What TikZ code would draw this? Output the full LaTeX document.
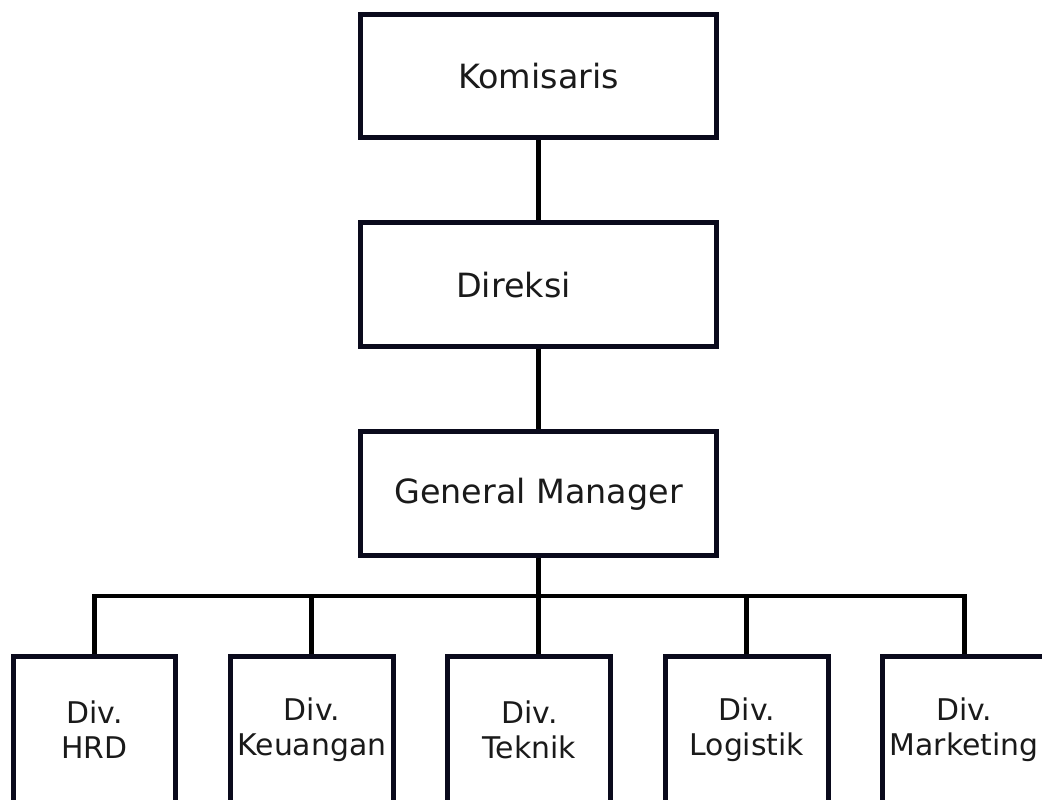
\documentclass[tikz,border=0pt]{standalone}
\usepackage{fontspec}
\setmainfont{DejaVu Sans}
\usetikzlibrary{positioning}
\definecolor{boxline}{RGB}{10,10,28}
\definecolor{labeltext}{RGB}{26,26,26}

\begin{document}
\begin{tikzpicture}[x=0.02cm,y=-0.02cm,
	jabatan/.style={draw=boxline,line width=0.1cm,minimum width=7.14cm,minimum height=2.48cm,inner sep=1pt,text=labeltext,font=\fontsize{19}{23}\selectfont},
	divisi/.style={draw=boxline,line width=0.1cm,minimum width=3.26cm,minimum height=2.96cm,inner sep=1pt,align=center,text=labeltext,font=\fontsize{17}{20}\selectfont},
	garis/.style={line width=0.1cm},
	node distance=1.6cm]
	\clip (0,0) rectangle (1042,800);
	\node[jabatan] (kom) at (538.5,76) {Komisaris};
	\node[jabatan] (dir) [below=of kom] {Direksi\hspace*{1cm}\mbox{}};
	\node[jabatan] (gm) [below=of dir] {General Manager};
	
	\node[divisi] (hrd) at (94.5,730) {Div.\\HRD};
	\node[divisi] (keu) [right=0.99cm of hrd] {Div.\\Keuangan};
	\node[divisi] (tek) [right=0.99cm of keu] {Div.\\Teknik};
	\node[divisi] (log) [right=0.99cm of tek] {Div.\\Logistik};
	\node[divisi] (mar) [right=0.99cm of log] {Div.\\Marketing};
	
	\coordinate (bus) at (538.5,596);
	\draw[garis] (kom) -- (dir);
	\draw[garis] (dir) -- (gm);
	\draw[garis] (gm) -- (gm |- tek.north);
	\draw[garis] (hrd.north) |- (bus) -| (mar.north);
	\foreach \d in {keu,log}
		\draw[garis] (\d.north) -- (\d.north |- bus);
\end{tikzpicture}
\end{document}
